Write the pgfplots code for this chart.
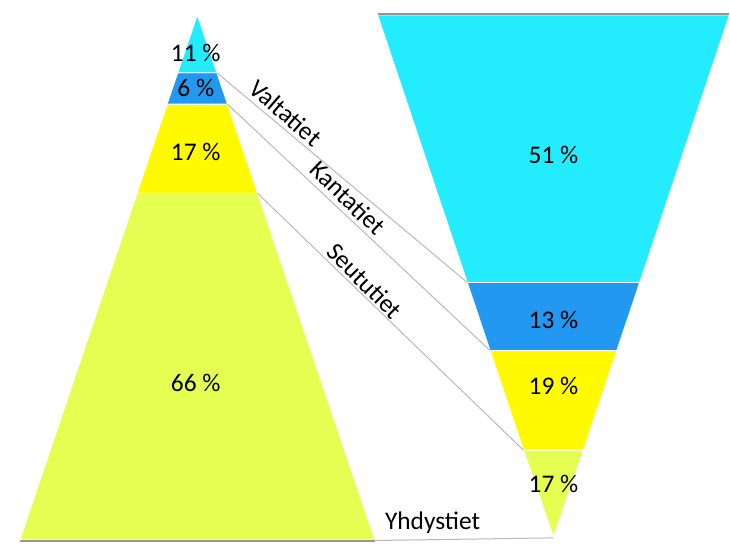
\documentclass[border=0pt]{standalone}
\usepackage{pgfplots}
\pgfplotsset{compat=1.18}
\usepackage{fontspec}
\setmainfont{Carlito}
\definecolor{cCyan}{RGB}{36,236,255}
\definecolor{cBlue}{RGB}{34,152,240}
\definecolor{cYellow}{RGB}{255,250,0}
\definecolor{cLime}{RGB}{228,255,82}
\definecolor{cLine}{RGB}{185,185,185}
\definecolor{cEdge}{RGB}{150,150,150}
\begin{document}
\begin{tikzpicture}
\begin{axis}[
  width=730bp, height=549bp, scale only axis,
  xmin=0, xmax=730, ymin=-1.714, ymax=102.857,
  hide axis, clip=false,
]
\path (rel axis cs:0,0) (rel axis cs:1,1);
% Left pyramid: shares 66, 17, 6, 11 (cumulative levels 0,66,83,89,100)
\addplot[fill=cLime, draw=white, line width=0.8bp] coordinates {(20,0) (375,0) (257.85,66) (137.15,66)} -- cycle;
\addplot[fill=cYellow, draw=white, line width=0.8bp] coordinates {(137.15,66) (257.85,66) (227.68,83) (167.33,83)} -- cycle;
\addplot[fill=cBlue, draw=white, line width=0.8bp] coordinates {(167.33,83) (227.68,83) (217.03,89) (177.98,89)} -- cycle;
\addplot[fill=cCyan, draw=white, line width=0.8bp] coordinates {(177.98,89) (217.03,89) (197.5,100)} -- cycle;
% Right inverted pyramid: shares 51, 13, 19, 17 (levels 100,49,36,17,0)
\addplot[fill=cCyan, draw=white, line width=0.8bp] coordinates {(378,100) (730,100) (640.24,49) (467.76,49)} -- cycle;
\addplot[fill=cBlue, draw=white, line width=0.8bp] coordinates {(467.76,49) (640.24,49) (617.36,36) (490.64,36)} -- cycle;
\addplot[fill=cYellow, draw=white, line width=0.8bp] coordinates {(490.64,36) (617.36,36) (583.92,17) (524.08,17)} -- cycle;
\addplot[fill=cLime, draw=white, line width=0.8bp] coordinates {(524.08,17) (583.92,17) (554,0.5)} -- cycle;
% connectors
\addplot[cLine, line width=1bp] coordinates {(217.03,89) (467.76,49)};
\addplot[cLine, line width=1bp] coordinates {(227.68,83) (490.64,36)};
\addplot[cLine, line width=1bp] coordinates {(257.85,66) (524.08,17)};
\addplot[cLine, line width=1bp] coordinates {(375,-0.2) (554,0.3)};
\addplot[cEdge, line width=1.5bp] coordinates {(20,-0.25) (375,-0.25)};
\addplot[cEdge, line width=1.5bp] coordinates {(378,100.15) (730,100.15)};
% labels
\begin{scope}[every node/.style={font=\fontsize{25.5}{30}\selectfont, inner sep=0pt}]
\node at (axis cs:196,92.76) {11~\%};
\node at (axis cs:196,86.0) {6~\%};
\node at (axis cs:196,73.8) {17~\%};
\node at (axis cs:196,29.9) {66~\%};
\node at (axis cs:554,73.3) {51~\%};
\node at (axis cs:554,41.9) {13~\%};
\node at (axis cs:554,29.3) {19~\%};
\node at (axis cs:554,10.5) {17~\%};
\node[rotate=-41] at (axis cs:286,81.33) {Valtatiet};
\node[rotate=-44] at (axis cs:348,65.14) {Kantatiet};
\node[rotate=-45] at (axis cs:365,49.33) {Seututiet};
\node at (axis cs:433,3.24) {Yhdystiet};
\end{scope}
\end{axis}
\end{tikzpicture}
\end{document}
